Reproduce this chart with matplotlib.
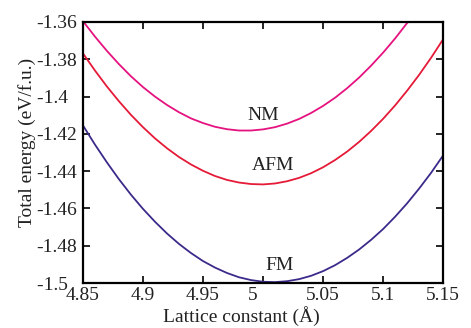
import matplotlib
matplotlib.use("Agg")
import matplotlib.pyplot as plt

plt.rcParams['font.family'] = ['Liberation Serif', 'DejaVu Serif']

x = [4.85, 4.86, 4.87, 4.88, 4.89, 4.90, 4.91, 4.92, 4.93, 4.94, 4.95, 4.96, 4.97, 4.98, 4.99,
     5.00, 5.01, 5.02, 5.03, 5.04, 5.05, 5.06, 5.07, 5.08, 5.09, 5.10, 5.11, 5.12, 5.13, 5.14, 5.15]

nm = [-1.3595, -1.3678, -1.3755, -1.3826, -1.3891, -1.3949, -1.4000, -1.4045, -1.4084, -1.4117,
      -1.4142, -1.4162, -1.4175, -1.4182, -1.4182, -1.4176, -1.4164, -1.4145, -1.4120, -1.4088,
      -1.4050, -1.4006, -1.3955, -1.3898, -1.3834, -1.3764, -1.3688, -1.3605, -1.3516, -1.3420, -1.3318]

afm = [-1.3768, -1.3860, -1.3946, -1.4025, -1.4098, -1.4164, -1.4224, -1.4277, -1.4324, -1.4364,
       -1.4398, -1.4426, -1.4447, -1.4461, -1.4469, -1.4471, -1.4466, -1.4454, -1.4436, -1.4411,
       -1.4379, -1.4340, -1.4295, -1.4243, -1.4184, -1.4119, -1.4047, -1.3968, -1.3883, -1.3791, -1.3692]

fm = [-1.4154, -1.4257, -1.4353, -1.4443, -1.4526, -1.4602, -1.4671, -1.4734, -1.4790, -1.4839,
      -1.4882, -1.4917, -1.4946, -1.4969, -1.4984, -1.4993, -1.4995, -1.4990, -1.4979, -1.4961,
      -1.4936, -1.4904, -1.4865, -1.4820, -1.4768, -1.4710, -1.4644, -1.4572, -1.4493, -1.4408, -1.4315]

labels = ["NM", "AFM", "FM"]
label_x = [5.000, 5.008, 5.014]
label_y = [-1.4100, -1.4367, -1.4904]
colors = ["#e5127f", "#e51a38", "#3c2a8a"]

xticks = [4.85, 4.9, 4.95, 5.0, 5.05, 5.1, 5.15]
xticklabels = ["4.85", "4.9", "4.95", "5\u2007\u2007", "5.05", "5.1", "5.15"]
yticks = [-1.5, -1.48, -1.46, -1.44, -1.42, -1.4, -1.38, -1.36]
yticklabels = ["-1.5\u2007", "-1.48", "-1.46", "-1.44", "-1.42", "-1.4\u2007", "-1.38", "-1.36"]

fig = plt.figure(figsize=(4.71, 3.28), dpi=100)
ax = fig.add_axes([0.176, 0.137, 0.765, 0.796])

for ys, c in zip([nm, afm, fm], colors):
    ax.plot(x, ys, color=c, lw=1.3)

for t, lx, ly in zip(labels, label_x, label_y):
    ax.text(lx, ly, t, ha='center', va='center', fontsize=14, color='#222222')

ax.set_xlim(4.85, 5.15)
ax.set_ylim(-1.5, -1.36)
ax.set_xticks(xticks)
ax.set_xticklabels(xticklabels)
ax.set_yticks(yticks)
ax.set_yticklabels(yticklabels)
ax.tick_params(direction='in', top=True, right=True, length=5, width=1.2,
               labelsize=14, labelcolor='#222222')
ax.tick_params(axis='x', pad=3)
ax.tick_params(axis='y', pad=4)
for s in ax.spines.values():
    s.set_linewidth(1.6)

ax.set_xlabel("Lattice constant (Å)", fontsize=14, color='#222222', va='top')
ax.xaxis.set_label_coords(0.44, -0.088)
ax.set_ylabel("Total energy (eV/f.u.)", fontsize=14, color='#222222')
ax.yaxis.set_label_coords(-0.131, 0.54)

fig.savefig("out.png", dpi=100)
